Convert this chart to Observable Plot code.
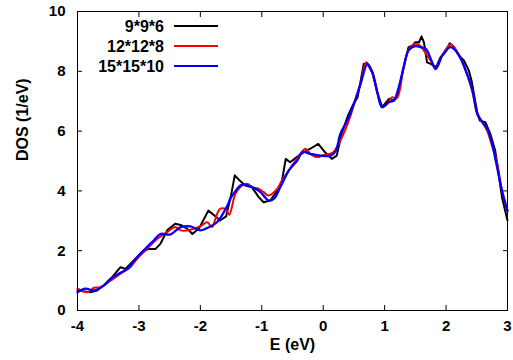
<!DOCTYPE html>
<html>
<head>
<meta charset="utf-8">
<script src="https://cdn.jsdelivr.net/npm/d3@7"></script>
<script src="https://cdn.jsdelivr.net/npm/@observablehq/plot@0.6"></script>
<style>
  html, body { margin: 0; padding: 0; background: #fff; }
  #chart { position: relative; width: 513px; height: 360px; }
</style>
</head>
<body>
<div id="chart"></div>
<script>
// Tick values
const xTicks = [-4, -3, -2, -1, 0, 1, 2, 3];
const yTicks = [0, 2, 4, 6, 8, 10];

// Series names and colours
const seriesNames = ["9*9*6", "12*12*8", "15*15*10"];
const seriesColors = ["#000000", "#ff0000", "#0000ff"];

// 9*9*6
const energyK9 = [-4.0, -3.79, -3.68, -3.57, -3.46, -3.30, -3.22, -3.14, -2.95, -2.84, -2.73, -2.65, -2.54, -2.41, -2.32, -2.21, -2.13, -2.02, -1.87, -1.77, -1.68, -1.58, -1.50, -1.44, -1.36, -1.27, -1.16, -1.05, -0.97, -0.86, -0.75, -0.67, -0.61, -0.54, -0.43, -0.32, -0.21, -0.08, 0.03, 0.14, 0.22, 0.30, 0.40, 0.48, 0.56, 0.66, 0.72, 0.80, 0.88, 0.96, 1.07, 1.15, 1.20, 1.31, 1.39, 1.45, 1.50, 1.56, 1.60, 1.64, 1.69, 1.75, 1.80, 1.84, 1.91, 1.99, 2.06, 2.13, 2.21, 2.29, 2.37, 2.42, 2.51, 2.55, 2.64, 2.72, 2.80, 2.91, 3.0];
const dosK9 = [0.67, 0.61, 0.67, 0.84, 1.06, 1.45, 1.39, 1.56, 1.95, 2.06, 2.06, 2.23, 2.68, 2.90, 2.86, 2.73, 2.56, 2.75, 3.34, 3.18, 3.01, 3.15, 3.85, 4.52, 4.35, 4.18, 4.12, 3.79, 3.62, 3.68, 4.01, 4.35, 5.07, 4.96, 5.13, 5.29, 5.41, 5.57, 5.29, 5.07, 5.18, 5.91, 6.50, 6.86, 7.13, 8.25, 8.25, 7.95, 7.30, 6.80, 7.08, 7.02, 7.13, 8.14, 8.81, 8.86, 8.97, 8.97, 9.17, 8.97, 8.30, 8.25, 8.19, 8.14, 8.47, 8.64, 8.94, 8.81, 8.53, 8.36, 8.03, 7.64, 6.58, 6.35, 6.30, 5.91, 5.35, 3.79, 3.01];

// 12*12*8
const energyK12 = [-4.0, -3.84, -3.73, -3.63, -3.46, -3.30, -3.14, -3.03, -2.87, -2.70, -2.54, -2.41, -2.32, -2.16, -2.0, -1.89, -1.81, -1.75, -1.68, -1.58, -1.53, -1.43, -1.34, -1.24, -1.16, -1.05, -0.97, -0.89, -0.75, -0.67, -0.59, -0.43, -0.29, -0.21, -0.10, 0.01, 0.15, 0.25, 0.35, 0.45, 0.50, 0.61, 0.70, 0.80, 0.88, 0.96, 1.07, 1.12, 1.20, 1.31, 1.40, 1.50, 1.58, 1.67, 1.75, 1.83, 1.94, 2.07, 2.15, 2.24, 2.34, 2.43, 2.51, 2.59, 2.67, 2.75, 2.83, 2.91, 3.0];
const dosK12 = [0.73, 0.61, 0.76, 0.78, 1.00, 1.23, 1.45, 1.73, 2.06, 2.40, 2.62, 2.79, 2.68, 2.70, 2.82, 2.95, 2.79, 3.10, 3.40, 3.38, 3.20, 3.90, 4.15, 4.24, 4.12, 4.07, 3.96, 3.85, 4.07, 4.35, 4.60, 5.07, 5.41, 5.24, 5.13, 5.20, 5.27, 5.57, 6.00, 6.55, 6.90, 7.60, 8.30, 7.95, 7.30, 6.80, 7.00, 7.13, 7.10, 8.14, 8.75, 8.92, 8.85, 8.60, 8.35, 8.08, 8.55, 8.90, 8.75, 8.42, 7.90, 7.30, 6.55, 6.30, 6.00, 5.50, 4.95, 4.00, 3.30];

// 15*15*10
const energyK15 = [-4.0, -3.87, -3.73, -3.57, -3.46, -3.33, -3.19, -3.03, -2.87, -2.76, -2.65, -2.49, -2.32, -2.16, -2.0, -1.89, -1.73, -1.56, -1.51, -1.46, -1.35, -1.30, -1.18, -1.02, -0.89, -0.80, -0.70, -0.56, -0.42, -0.34, -0.21, -0.04, 0.12, 0.20, 0.28, 0.39, 0.50, 0.61, 0.72, 0.80, 0.88, 0.93, 0.96, 1.04, 1.07, 1.15, 1.23, 1.31, 1.39, 1.50, 1.58, 1.67, 1.75, 1.83, 1.94, 2.07, 2.15, 2.24, 2.34, 2.43, 2.51, 2.59, 2.67, 2.75, 2.81, 2.91, 3.0];
const dosK15 = [0.61, 0.73, 0.67, 0.84, 1.06, 1.23, 1.39, 1.78, 2.12, 2.34, 2.56, 2.54, 2.79, 2.81, 2.68, 2.76, 2.95, 3.51, 3.75, 3.90, 4.18, 4.22, 4.15, 3.96, 3.68, 3.74, 4.12, 4.68, 5.02, 5.30, 5.24, 5.18, 5.18, 5.32, 5.91, 6.35, 6.91, 7.60, 8.24, 7.97, 7.30, 6.90, 6.80, 6.91, 6.97, 7.02, 7.47, 8.14, 8.70, 8.84, 8.81, 8.75, 8.42, 8.08, 8.53, 8.81, 8.70, 8.42, 7.92, 7.36, 6.58, 6.30, 6.08, 5.57, 5.00, 4.01, 3.34];

const toRows = (es, ds) => es.map((e, i) => ({e, dos: ds[i]}));
const rows = [toRows(energyK9, dosK9), toRows(energyK12, dosK12), toRows(energyK15, dosK15)];

const font = "'Liberation Sans', Arial, Helvetica, sans-serif";

const chart = Plot.plot({
  width: 513,
  height: 360,
  marginLeft: 77,
  marginRight: 6,
  marginTop: 11,
  marginBottom: 50,
  style: {fontFamily: font, fontWeight: "bold", fontSize: "15px", color: "#000", background: "#fff"},
  x: {domain: [-4, 3]},
  y: {domain: [0, 10]},
  marks: [
    Plot.axisX({anchor: "bottom", ticks: xTicks, tickSize: -5, tickPadding: 15, tickFormat: d => String(d), label: null, fontSize: 15}),
    Plot.axisX({anchor: "top", ticks: xTicks, tickSize: -5, tickFormat: () => "", label: null}),
    Plot.axisY({anchor: "left", ticks: yTicks, tickSize: -5, tickPadding: 17, tickFormat: d => String(d), label: null, fontSize: 15}),
    Plot.axisY({anchor: "right", ticks: yTicks, tickSize: -5, tickFormat: () => "", label: null}),
    ...rows.map((r, i) => Plot.line(r, {x: "e", y: "dos", stroke: seriesColors[i], strokeWidth: i === 2 ? 2.3 : 2, curve: i === 0 ? "linear" : "catmull-rom"})),
    Plot.frame({stroke: "#000", strokeWidth: 1}),
    Plot.text(["E (eV)"], {frameAnchor: "bottom", dy: 39, fontSize: 16, fontWeight: "bold"}),
    Plot.text(["DOS (1/eV)"], {frameAnchor: "left", dx: -55, rotate: -90, fontSize: 16, fontWeight: "bold"})
  ]
});

document.getElementById("chart").appendChild(chart);

// Legend (inside the plot, top-left)
const svg = d3.select(chart);
const lg = svg.append("g").attr("font-family", font).attr("font-weight", "bold").attr("font-size", 16);
seriesNames.forEach((name, i) => {
  const cy = 26 + i * 20;
  lg.append("text").attr("x", 164).attr("y", cy).attr("dy", "0.35em").attr("text-anchor", "end").attr("fill", "#000").text(name);
  lg.append("line").attr("x1", 174).attr("x2", 218).attr("y1", cy).attr("y2", cy).attr("stroke", seriesColors[i]).attr("stroke-width", 2);
});
</script>
</body>
</html>
